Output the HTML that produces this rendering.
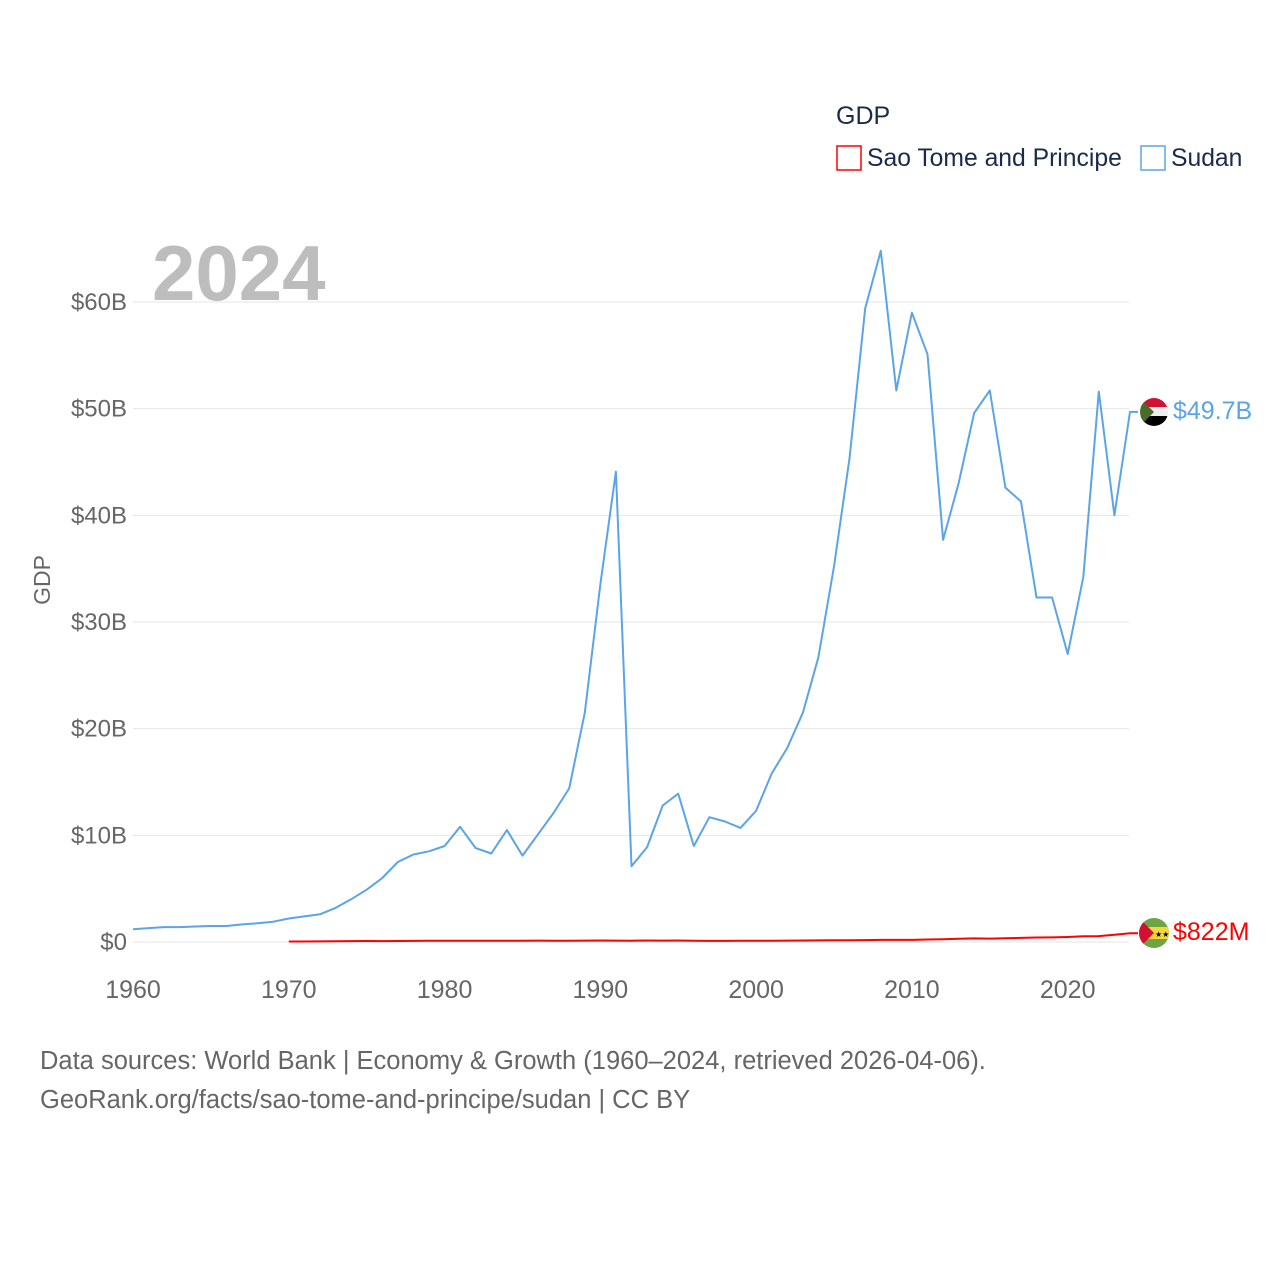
<!DOCTYPE html>
<html><head><meta charset="utf-8"><style>
body{margin:0;background:#fff;font-family:"Liberation Sans",sans-serif}
svg text{font-family:"Liberation Sans",sans-serif}
</style></head><body>
<svg width="1280" height="1280" viewBox="0 0 1280 1280">
<g id="grid"></g>
<g id="marks"></g>
<text x="836" y="124" font-size="25" fill="#1a2a4a">GDP</text>
<g><rect x="837" y="146" width="24" height="24" fill="none" stroke="red" stroke-width="1.5"/><text x="867" y="166" font-size="24.7" fill="#1a2a4a">Sao Tome and Principe</text></g>
<g><rect x="1141" y="146" width="24" height="24" fill="none" stroke="#5ba4e8" stroke-width="1.5"/><text x="1171" y="166" font-size="24.7" fill="#1a2a4a">Sudan</text></g>
<text x="152" y="300" font-size="78" font-weight="bold" fill="#bdbdbd">2024</text>
<text transform="translate(50,580) rotate(-90)" text-anchor="middle" font-size="23" fill="#666">GDP</text>
<g>
<clipPath id="c1"><circle cx="1154" cy="412" r="14"/></clipPath>
<g clip-path="url(#c1)"><rect x="1140" y="398" width="28" height="10" fill="#d21034"/><rect x="1140" y="407" width="28" height="10" fill="#eee"/><rect x="1140" y="416" width="28" height="10" fill="#000"/><polygon points="1140,398 1154,412 1140,426" fill="#4a6b2a"/></g></g>
<g>
<clipPath id="c2"><circle cx="1154" cy="933" r="15"/></clipPath>
<g clip-path="url(#c2)"><rect x="1139" y="918" width="30" height="30" fill="#6ea544"/><rect x="1139" y="927" width="30" height="12" fill="#f2d83a"/><polygon points="1139,918 1154,933 1139,948" fill="#d21034"/><text x="1155" y="937" font-size="8">★★</text></g></g>
<text x="1173" y="419" font-size="25" fill="#5ba4e8">$49.7B</text>
<text x="1173" y="940" font-size="25" fill="red">$822M</text>
<text x="40" y="1069" font-size="25.5" fill="#666">Data sources: World Bank | Economy &amp; Growth (1960–2024, retrieved 2026-04-06).</text>
<text x="40" y="1108" font-size="25.5" fill="#666">GeoRank.org/facts/sao-tome-and-principe/sudan | CC BY</text>
</svg>
<script>
const yTicks=[0,10,20,30,40,50,60];
const yTickLabels=["$0","$10B","$20B","$30B","$40B","$50B","$60B"];
const xTicks=[1960,1970,1980,1990,2000,2010,2020];
const sudanStart=1960;
const sudanValues=[1.2,1.3,1.4,1.4,1.45,1.5,1.5,1.65,1.75,1.9,2.2,2.4,2.6,3.2,4.0,4.9,6.0,7.5,8.2,8.5,9.0,10.8,8.8,8.3,10.5,8.1,10.1,12.1,14.4,21.5,33.5,44.1,7.1,8.9,12.8,13.9,9.0,11.7,11.3,10.7,12.3,15.8,18.2,21.5,26.7,35.2,45.4,59.4,64.8,51.7,59.0,55.1,37.7,43.0,49.6,51.7,42.6,41.3,32.3,32.3,27.0,34.2,51.6,40.0,49.7];
const stpStart=1970;
const stpValues=[0.05,0.05,0.06,0.07,0.08,0.09,0.08,0.09,0.1,0.11,0.12,0.11,0.11,0.11,0.11,0.12,0.13,0.12,0.12,0.13,0.14,0.13,0.12,0.14,0.13,0.14,0.12,0.1,0.1,0.11,0.11,0.12,0.13,0.14,0.15,0.16,0.17,0.18,0.2,0.2,0.2,0.23,0.26,0.3,0.34,0.32,0.35,0.38,0.42,0.43,0.47,0.53,0.55,0.68,0.822];
const ns="http://www.w3.org/2000/svg";
const X=y=>133+(y-1960)*(1130-133)/64;
const Y=v=>942-v*(942-302)/60;
const grid=document.getElementById('grid'),marks=document.getElementById('marks');
yTicks.forEach((t,i)=>{
 const l=document.createElementNS(ns,'line');
 l.setAttribute('x1',133);l.setAttribute('x2',1129);l.setAttribute('y1',Y(t));l.setAttribute('y2',Y(t));
 l.setAttribute('stroke','#e6e6e6');
 
 
 grid.appendChild(l);
 const tx=document.createElementNS(ns,'text');
 tx.setAttribute('x',127);tx.setAttribute('y',Y(t)+8);tx.setAttribute('text-anchor','end');tx.setAttribute('font-size','24');tx.setAttribute('fill','#666');
 tx.textContent=yTickLabels[i];
 
 
 grid.appendChild(tx);
});
xTicks.forEach(t=>{
 const tx=document.createElementNS(ns,'text');
 tx.setAttribute('x',X(t));tx.setAttribute('y',998);tx.setAttribute('text-anchor','middle');tx.setAttribute('font-size','25');tx.setAttribute('fill','#666');
 tx.textContent=t;
 
 
 grid.appendChild(tx);
});
function line(start,vals,color,w,name){
 const p=document.createElementNS(ns,'polyline');
 const pts=vals.map((v,i)=>X(start+i).toFixed(1)+','+Y(v).toFixed(1));
 const lx=X(start+vals.length-1),ly=Y(vals[vals.length-1]);
 pts.push((lx+8)+','+ly);
 p.setAttribute('points',pts.join(' '));
 p.setAttribute('fill','none');p.setAttribute('stroke',color);p.setAttribute('stroke-width',w);p.setAttribute('stroke-linejoin','round');
 
 
 marks.appendChild(p);
}
line(sudanStart,sudanValues,'#5ba4e8',2,'sudan-line');
line(stpStart,stpValues,'red',2,'sao-tome-line');
</script>
</body></html>
